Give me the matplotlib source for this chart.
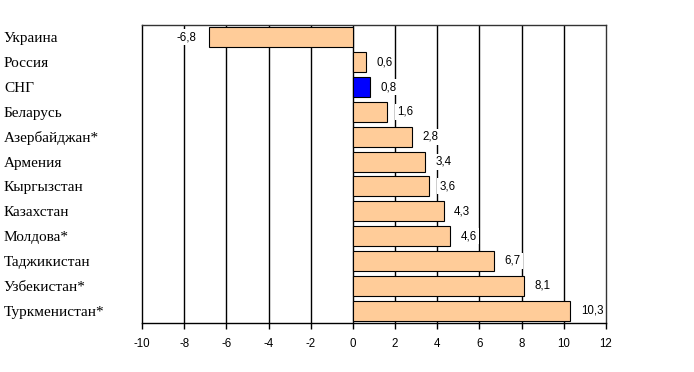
import matplotlib.pyplot as plt

# Data (top to bottom as in the chart)
countries = ['Украина', 'Россия', 'СНГ', 'Беларусь', 'Азербайджан*', 'Армения',
             'Кыргызстан', 'Казахстан', 'Молдова*', 'Таджикистан', 'Узбекистан*',
             'Туркменистан*']
values = [-6.8, 0.6, 0.8, 1.6, 2.8, 3.4, 3.6, 4.3, 4.6, 6.7, 8.1, 10.3]
highlight = 'СНГ'

fig = plt.figure(figsize=(6.94, 3.72), dpi=100)
ax = fig.add_axes([142 / 694, 49 / 372, 464 / 694, 298 / 372])

ypos = list(range(len(countries)))
colors = ['#0000FF' if c == highlight else '#FFCC99' for c in countries]

# vertical gridlines under the bars
for g in range(-8, 12, 2):
    ax.axvline(g, color='black', linewidth=1, zorder=1)

ax.barh(ypos, values, height=0.8, color=colors, edgecolor='black',
        linewidth=0.8, zorder=2)

# value labels
for y, v in zip(ypos, values):
    txt = f'{v:.1f}'.replace('.', ',')
    if v < 0:
        ax.text(v - 0.6, y, txt, ha='right', va='center', fontsize=8.3,
                family='Liberation Sans', zorder=3,
                bbox=dict(facecolor='white', edgecolor='none', pad=1.5))
    else:
        ax.text(v + 0.5, y, txt, ha='left', va='center', fontsize=8.3,
                family='Liberation Sans', zorder=3,
                bbox=dict(facecolor='white', edgecolor='none', pad=1.5))

ax.set_xlim(-10, 12)
ax.set_ylim(len(countries) - 0.5, -0.5)
ax.set_xticks(range(-10, 13, 2))
ax.set_xticklabels([str(t) for t in range(-10, 13, 2)], family='Liberation Sans',
                   fontsize=8.3)
ax.tick_params(axis='x', length=4, width=1, direction='out', pad=7)

ax.set_yticks(ypos)
ax.set_yticklabels(countries, family='Liberation Serif', fontsize=11)
ax.tick_params(axis='y', length=0, pad=99.4)
for lab in ax.get_yticklabels():
    lab.set_horizontalalignment('left')

for side in ['left', 'right', 'top', 'bottom']:
    ax.spines[side].set_linewidth(1)
    ax.spines[side].set_color('black')
ax.spines['top'].set_color('#333333')
ax.spines['right'].set_color('#333333')

fig.savefig('out.png', dpi=100)
